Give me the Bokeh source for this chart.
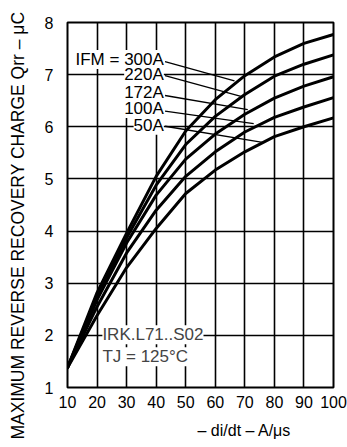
from bokeh.plotting import figure
from bokeh.models import Range1d, FixedTicker, Label, Title
from bokeh.embed import file_html
from bokeh.resources import INLINE

# di/dt values (A/us)
didt = [10, 20, 30, 40, 50, 60, 70, 80, 90, 100]
# Qrr (uC) per forward current
q_300 = [1.38, 2.82, 3.96, 5.05, 5.92, 6.52, 6.98, 7.34, 7.60, 7.77]
q_220 = [1.38, 2.76, 3.87, 4.88, 5.66, 6.20, 6.62, 6.97, 7.20, 7.38]
q_172 = [1.38, 2.68, 3.77, 4.69, 5.38, 5.86, 6.24, 6.55, 6.78, 6.96]
q_100 = [1.38, 2.55, 3.58, 4.40, 5.05, 5.52, 5.90, 6.18, 6.38, 6.56]
q_50 = [1.38, 2.38, 3.30, 4.05, 4.72, 5.17, 5.52, 5.81, 6.00, 6.17]
series = [q_300, q_220, q_172, q_100, q_50]

curve_labels = ["IFM = 300A", "220A", "172A", "100A", "50A"]
label_y = [7.29, 7.00, 6.66, 6.35, 6.03]
leader_x0 = [43.0, 43.0, 43.0, 43.0, 43.0]
leader_y0 = [7.25, 6.98, 6.60, 6.30, 6.01]
leader_x1 = [66.5, 69.0, 71.0, 73.0, 76.0]
leader_y1 = [6.88, 6.58, 6.33, 6.06, 5.70]

x_ticks = [10, 20, 30, 40, 50, 60, 70, 80, 90, 100]
y_ticks = [1, 2, 3, 4, 5, 6, 7, 8]

FONT = "Liberation Sans"

p = figure(width=347, height=447, output_backend="svg", toolbar_location=None,
           x_range=Range1d(10, 100), y_range=Range1d(1, 8),
           min_border_left=67, min_border_right=14, min_border_top=22, min_border_bottom=59)

p.outline_line_color = "black"
p.outline_line_width = 2
p.background_fill_color = "white"
p.border_fill_color = "white"

for ax in (p.xaxis[0], p.yaxis[0]):
    ax.axis_line_color = None
    ax.major_tick_line_color = None
    ax.minor_tick_line_color = None
    ax.major_label_text_font = FONT
    ax.major_label_text_font_size = "16px"
    ax.major_label_text_color = "black"

p.xaxis[0].ticker = FixedTicker(ticks=x_ticks)
p.yaxis[0].ticker = FixedTicker(ticks=y_ticks)
p.xaxis[0].major_label_standoff = 2
p.yaxis[0].major_label_standoff = 8
# invisible spacer label pushes the title outward
p.yaxis[0].axis_label = "\u00a0"
p.yaxis[0].axis_label_standoff = 0
p.yaxis[0].axis_label_text_font_size = "5px"

p.xgrid[0].ticker = FixedTicker(ticks=x_ticks)
p.ygrid[0].ticker = FixedTicker(ticks=y_ticks)
for g in (p.xgrid[0], p.ygrid[0]):
    g.grid_line_color = "black"
    g.grid_line_width = 1.6
    g.grid_line_alpha = 1.0

for s in series:
    p.line(didt, s, line_color="black", line_width=3, line_join="round", line_cap="round")

for i in range(len(curve_labels)):
    p.segment(x0=[leader_x0[i]], y0=[leader_y0[i]], x1=[leader_x1[i]], y1=[leader_y1[i]],
              line_color="black", line_width=1.3)

for i, t in enumerate(curve_labels):
    p.add_layout(Label(x=42.6, y=label_y[i], text=t, text_align="right", text_baseline="middle",
                       text_font=FONT, text_font_size="17px", text_color="black",
                       background_fill_color="white"))

p.add_layout(Label(x=21.8, y=2.01, text="IRK.L71..S02", text_align="left", text_baseline="middle",
                   text_font=FONT, text_font_size="17px", background_fill_color="white"))
p.add_layout(Label(x=21.8, y=1.59, text="TJ = 125°C", text_align="left", text_baseline="middle",
                   text_font=FONT, text_font_size="17px", background_fill_color="white"))

p.add_layout(Title(text="MAXIMUM REVERSE RECOVERY CHARGE Qrr – μC", align="left", offset=-52,
                   text_font=FONT, text_font_size="17.5px", text_font_style="normal",
                   text_color="black"), "left")
p.add_layout(Title(text="– di/dt – A/μs", align="left", offset=130, standoff=18,
                   text_font=FONT, text_font_size="16px", text_font_style="normal",
                   text_color="black"), "below")

open("out.html", "w").write(file_html(p, INLINE))
